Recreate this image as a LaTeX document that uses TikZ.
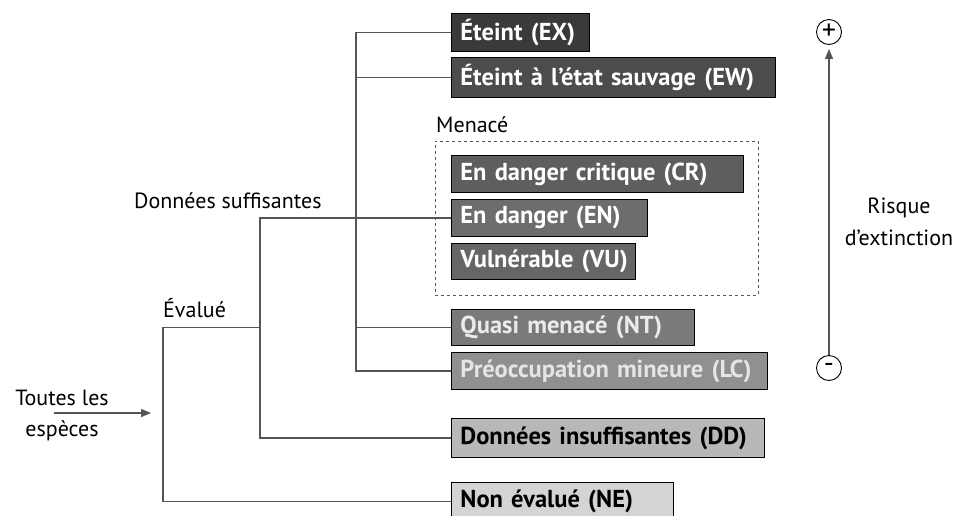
\documentclass[tikz,border=0pt]{standalone}
\usepackage{fontspec}
\setmainfont{PT Sans}
\usetikzlibrary{arrows.meta}
\definecolor{cEX}{HTML}{3A3A3A}
\definecolor{cEW}{HTML}{4C4C4D}
\definecolor{cCR}{HTML}{5E5E60}
\definecolor{cEN}{HTML}{6D6D6F}
\definecolor{cVU}{HTML}{666668}
\definecolor{cNT}{HTML}{7A7A7C}
\definecolor{cLC}{HTML}{909092}
\definecolor{cDD}{HTML}{B8B8BA}
\definecolor{cNE}{HTML}{D4D4D5}
\definecolor{linegrey}{HTML}{555555}
\newcommand{\catlabel}[1]{\mbox{#1}}
\begin{document}
\begin{tikzpicture}[x=1pt,y=-1pt,
  cat/.style={draw=black, line width=0.9pt, anchor=north west,
    inner xsep=9pt, inner ysep=0pt, align=left,
    font=\fontsize{24.5}{28}\selectfont\bfseries, text=white},
  darktext/.style={text=black},
  lbl/.style={font=\fontsize{22}{34}\selectfont, text=black, inner sep=0pt},
  conn/.style={draw=linegrey, line width=1.2pt},
  tip/.style={-{Triangle[length=10pt,width=8pt]}},
  sign/.style={circle, draw=black, line width=0.9pt, minimum size=25pt,
    inner sep=0pt, font=\fontsize{28}{28}\selectfont}]
\useasboundingbox (0,0) rectangle (959,515);

% category boxes
\node[cat, fill=cEX, minimum width=138pt, minimum height=38pt, text width=120pt] (ex) at (451,13) {\catlabel{Éteint (EX)}};
\node[cat, fill=cEW, minimum width=324pt, minimum height=40pt, text width=306pt] (ew) at (451,57) {\catlabel{Éteint à l’état sauvage (EW)}};
\node[cat, fill=cCR, minimum width=292pt, minimum height=37pt, text width=274pt] (cr) at (451,155) {\catlabel{En danger critique (CR)}};
\node[cat, fill=cEN, minimum width=196pt, minimum height=37pt, text width=178pt] (en) at (451,199) {\catlabel{En danger (EN)}};
\node[cat, fill=cVU, minimum width=184pt, minimum height=36pt, text width=166pt] (vu) at (451,243) {\catlabel{Vulnérable (VU)}};
\node[cat, fill=cNT, minimum width=243pt, minimum height=36pt, text width=225pt, text=white!92!black] (nt) at (451,309) {\catlabel{Quasi menacé (NT)}};
\node[cat, fill=cLC, minimum width=316pt, minimum height=37pt, text width=298pt, text=white!90!black] (lc) at (451,352) {\catlabel{Préoccupation mineure (LC)}};
\node[cat, fill=cDD, darktext, minimum width=313pt, minimum height=39pt, text width=295pt] (dd) at (451,418) {\catlabel{Données insuffisantes (DD)}};
\node[cat, fill=cNE, darktext, minimum width=222pt, minimum height=38pt, text width=204pt] (ne) at (451,482) {\catlabel{Non évalué (NE)}};

% threatened group
\node[draw=linegrey, dashed, line width=0.8pt, anchor=north west,
  minimum width=323pt, minimum height=154pt, inner sep=0pt] (threat) at (435,141) {};
\node[lbl, anchor=base west] (menace) at (436,132) {Menacé};

% branch labels
\node[lbl, anchor=base west] (suff) at (134,208) {Données suffisantes};
\node[lbl, anchor=base west] (eval) at (163,317) {Évalué};
\node[lbl, anchor=base] (all1) at (62,405) {Toutes les};
\node[lbl, anchor=base] (all2) at (62,436) {espèces};

% tree connectors
\coordinate (b1) at (356,0);
\coordinate (b2) at (260,0);
\coordinate (b3) at (163,0);
\coordinate (in) at (54,413);
\coordinate (inend) at (151,413);
\draw[conn] (ex.west) -- (b1 |- ex.west) -- (b1 |- lc.west) -- (lc.west);
\draw[conn] (ew.west) -- (b1 |- ew.west);
\draw[conn] (nt.west) -- (b1 |- nt.west);
\draw[conn] (en.west) -- (b2 |- en.west) -- (b2 |- dd.west) -- (dd.west);
\draw[conn] (b2 |- nt.west) -- (b3 |- nt.west) -- (b3 |- ne.west) -- (ne.west);
\draw[conn, tip] (in) -- (inend);

% extinction risk scale
\node[sign] (plus) at (829,32) {+};
\node[sign] (minus) at (829,368) {-};
\draw[conn, tip, shorten >=4pt] (minus.north) -- (plus.south);
\node[lbl, align=center] (risk) at (899,222) {Risque\\[-2pt]d’extinction};
\end{tikzpicture}
\end{document}
